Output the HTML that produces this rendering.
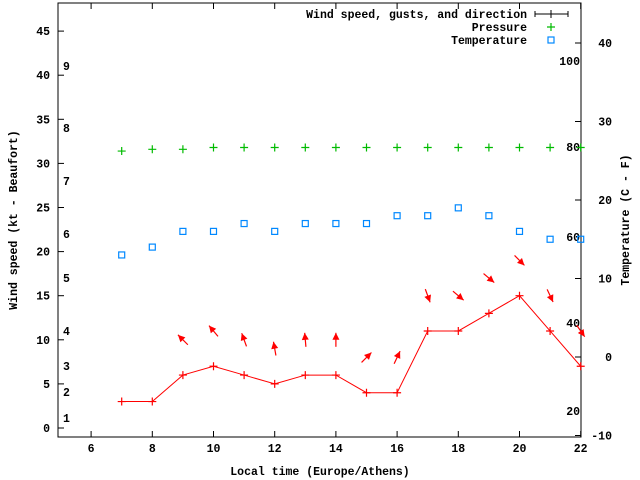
<!DOCTYPE html>
<html><head><meta charset="utf-8"><style>
body{margin:0;background:#fff}
svg{display:block}
text{font-family:"Liberation Mono",monospace;font-size:11.5px;font-weight:bold;fill:#000}
</style></head><body>
<svg id="c" width="640" height="480" xmlns="http://www.w3.org/2000/svg">
<text transform="translate(17,220) rotate(-90)" text-anchor="middle">Wind speed (kt - Beaufort)</text>
<text transform="translate(629,220) rotate(-90)" text-anchor="middle">Temperature (C - F)</text>
<text x="320" y="475" text-anchor="middle">Local time (Europe/Athens)</text>
</svg>
<script>
const hours=[7,8,9,10,11,12,13,14,15,16,17,18,19,20,21,22];
const wind=[3,3,6,7,6,5,6,6,4,4,11,11,13,15,11,7];
const dirHours=[9,10,11,12,13,14,15,16,17,18,19,20,21,22];
const dirDeg=[315,320,340,350,355,0,45,25,160,130,130,135,155,145];
const pressure=[31.4,31.6,31.6,31.8,31.8,31.8,31.8,31.8,31.8,31.8,31.8,31.8,31.8,31.8,31.8,31.8];
const temp=[13,14,16,16,17,16,17,17,17,18,18,19,18,16,15,15];
const xTicks=[6,8,10,12,14,16,18,20,22];
const yTicks=[0,5,10,15,20,25,30,35,40,45];
const tTicks=[-10,0,10,20,30,40];
const beaufort=[["1",418],["2",392],["3",366],["4",331],["5",278],["6",234],["7",181],["8",128],["9",66]];
const fLabels=[["100",61],["80",147],["60",237],["40",323],["20",411]];
const L=58,R=581,T=3,B=437;
const X=h=>L+2.5+(h-5)*30.6;
const Y=v=>428-v*8.82;
const YT=t=>357-t*7.85;
const svg=document.getElementById('c');
const NS='http://www.w3.org/2000/svg';
function mk(tag,attrs,txt){const e=document.createElementNS(NS,tag);for(const k in attrs)e.setAttribute(k,attrs[k]);if(txt!==undefined)e.textContent=txt;svg.appendChild(e);return e;}
let e=mk('rect',{x:L,y:T,width:R-L,height:B-T,fill:'none',stroke:'#000','stroke-width':1});


xTicks.forEach(h=>{mk('line',{x1:X(h),x2:X(h),y1:B,y2:B-6,stroke:'#000'});mk('line',{x1:X(h),x2:X(h),y1:T,y2:T+6,stroke:'#000'});
 e=mk('text',{x:X(h),y:B+15,'text-anchor':'middle'},h);
 
 });
yTicks.forEach(v=>{mk('line',{x1:L,x2:L+6,y1:Y(v),y2:Y(v),stroke:'#000'});
 e=mk('text',{x:L-8,y:Y(v)+4,'text-anchor':'end'},v);
 
 });
tTicks.forEach(t=>{mk('line',{x1:R,x2:R-6,y1:YT(t),y2:YT(t),stroke:'#000'});
 e=mk('text',{x:R+31,y:YT(t)+4,'text-anchor':'end'},t);
 
 });
beaufort.forEach(([s,y])=>{e=mk('text',{x:63,y:y+4},s);
 
 });
fLabels.forEach(([s,y])=>{e=mk('text',{x:580,y:y+4,'text-anchor':'end'},s);
 
 });
e=mk('polyline',{points:hours.map((h,i)=>X(h)+','+Y(wind[i])).join(' '),fill:'none',stroke:'#f00'});


function plus(x,y,c,n){const g=mk('path',{d:`M${x-4},${y}h8M${x},${y-4}v8`,stroke:c,'stroke-width':1.2});}
hours.forEach((h,i)=>plus(X(h),Y(wind[i]),'#f00','wind-point'));
dirHours.forEach((h,i)=>{const idx=hours.indexOf(h);const cx=X(h),cy=Y(wind[idx]+4);const a=dirDeg[i]*Math.PI/180;
 const dx=Math.sin(a)*7,dy=-Math.cos(a)*7;
 const g=mk('g',{});
 
 
 const l=document.createElementNS(NS,'line');l.setAttribute('x1',cx-dx);l.setAttribute('y1',cy-dy);l.setAttribute('x2',cx+dx);l.setAttribute('y2',cy+dy);l.setAttribute('stroke','#f00');l.setAttribute('stroke-width','1.2');g.appendChild(l);
 const hx=cx+dx,hy=cy+dy,ux=dx/7,uy=dy/7,px=-uy,py=ux;
 const p=document.createElementNS(NS,'polygon');p.setAttribute('points',`${hx},${hy} ${hx-ux*7+px*3.5},${hy-uy*7+py*3.5} ${hx-ux*7-px*3.5},${hy-uy*7-py*3.5}`);p.setAttribute('fill','#f00');g.appendChild(p);});
hours.forEach((h,i)=>plus(X(h),Y(pressure[i]),'#0b0','pressure-point'));
hours.forEach((h,i)=>{e=mk('rect',{x:X(h)-3,y:YT(temp[i])-3,width:6,height:6,fill:'none',stroke:'#08f','stroke-width':1.2});
 
 });
const leg=[["Wind speed, gusts, and direction",'w'],["Pressure",'p'],["Temperature",'t']];
leg.forEach(([s,k],i)=>{const y=14+i*13;
 e=mk('text',{x:527,y:y+4,'text-anchor':'end'},s);
 
 
 if(k==='w'){mk('path',{d:`M535,${y}h33M535,${y-3}v6M568,${y-3}v6M551,${y-4}v8`,stroke:'#000'});}
 else if(k==='p')plus(551,y,'#0b0','legend-pressure-marker');
 else mk('rect',{x:548,y:y-3,width:6,height:6,fill:'none',stroke:'#08f','stroke-width':1.2});});
</script>
</body></html>
